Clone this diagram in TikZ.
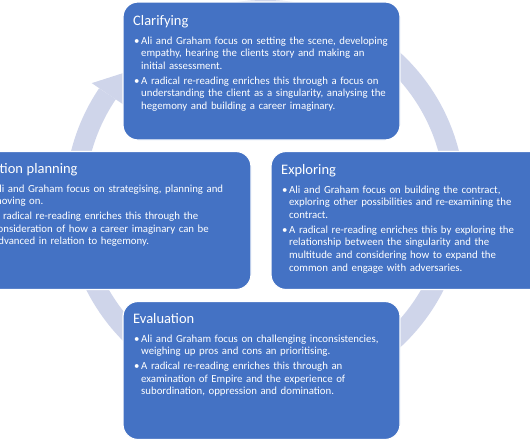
\documentclass[tikz,border=0pt]{standalone}
\usepackage{fontspec}
\setmainfont{Carlito}
\usetikzlibrary{positioning, calc}
\definecolor{stage-fill}{RGB}{68,114,196}
\definecolor{ring-color}{RGB}{207,213,234}
\newcommand{\stagetitle}{\fontsize{14.5}{17}\selectfont}
\newenvironment{stagelist}{\begin{list}{\makebox[8pt][l]{\hspace{1pt}\textbullet}}{\setlength{\leftmargin}{8pt}\setlength{\labelwidth}{8pt}\setlength{\labelsep}{0pt}\setlength{\itemindent}{0pt}\setlength{\itemsep}{2pt}\setlength{\parsep}{0pt}\setlength{\topsep}{0pt}\setlength{\partopsep}{0pt}}}{\end{list}}
\tikzset{stagebox/.style={rounded corners=15pt, fill=stage-fill, draw=white, line width=1.2pt, minimum width=277pt, minimum height=138pt, inner sep=0pt}}
\tikzset{stagetext/.style={anchor=base west, text=white, text width=300pt, align=left, inner sep=0pt, font=\fontsize{10.8}{12.7}\selectfont}}
\tikzset{ring/.style={ring-color, line width=20pt}}

\begin{document}
\begin{tikzpicture}[x=1pt, y=-1pt]
    % Page frame
    \useasboundingbox (0,0) rectangle (530,442);
    \clip (0,0) rectangle (530,442);

    % Cycle ring behind the stages
    \coordinate (hub) at (265,200);
    \draw[ring] ($(hub)+(-100:190)$) arc[start angle=-100, end angle=214, radius=190];
    \fill[ring-color] ($(hub)+(214:171)$) -- ($(hub)+(214:209)$) -- ($(hub)+(222:190)$) -- cycle;

    % Stage boxes
    \node[stagebox] (clar) at (261.5,71) {};
    \node[stagebox] (plan) at (112.5,220.5) {};
    \node[stagebox] (expl) at (409.5,220.5) {};
    \node[stagebox] (eval) at (261.5,370.5) {};

    % Clarifying
    \node[stagetext] (clar-text) at (133,25) {{\stagetitle Clarifying}\par\vspace{6.3pt}
        \begin{stagelist}
        \item Ali and Graham focus on setting the scene, developing\newline empathy, hearing the clients story and making an\newline initial assessment.
        \item A radical re-reading enriches this through a focus on\newline understanding the client as a singularity, analysing the\newline hegemony and building a career imaginary.
        \end{stagelist}};

    % Action planning
    \node[stagetext] (plan-text) at (-15,173) {{\stagetitle Action planning}\par\vspace{6.3pt}
        \begin{stagelist}
        \item Ali and Graham focus on strategising, planning and\newline moving on.
        \item A radical re-reading enriches this through the\newline consideration of how a career imaginary can be\newline advanced in relation to hegemony.
        \end{stagelist}};

    % Exploring
    \node[stagetext] (expl-text) at (281,174) {{\stagetitle Exploring}\par\vspace{6.3pt}
        \begin{stagelist}
        \item Ali and Graham focus on building the contract,\newline exploring other possibilities and re-examining the\newline contract.
        \item A radical re-reading enriches this by exploring the\newline relationship between the singularity and the\newline multitude and considering how to expand the\newline common and engage with adversaries.
        \end{stagelist}};

    % Evaluation
    \node[stagetext] (eval-text) at (133,323) {{\stagetitle Evaluation}\par\vspace{6.3pt}
        \begin{stagelist}
        \item Ali and Graham focus on challenging inconsistencies,\newline weighing up pros and cons an prioritising.
        \item A radical re-reading enriches this through an\newline examination of Empire and the experience of\newline subordination, oppression and domination.
        \end{stagelist}};
\end{tikzpicture}
\end{document}
